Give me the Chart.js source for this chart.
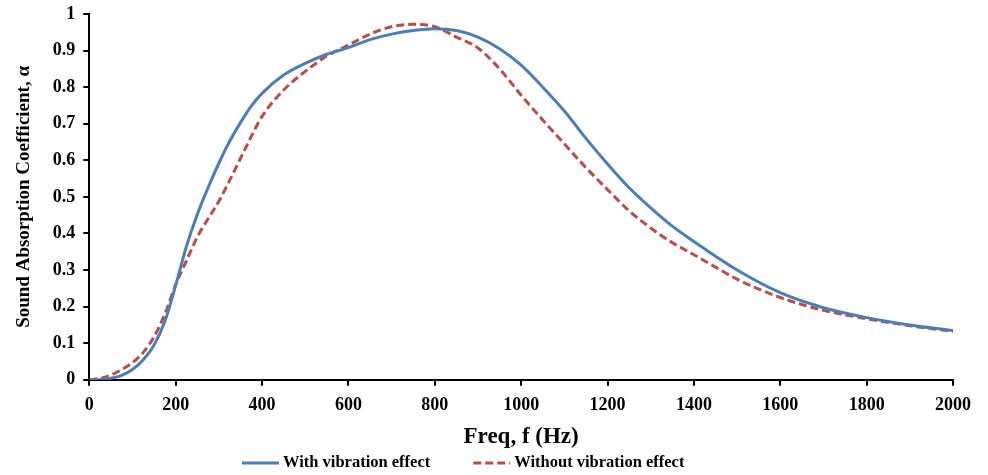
<!DOCTYPE html>
<html>
<head>
<meta charset="utf-8">
<script src="https://cdn.jsdelivr.net/npm/chart.js@4/dist/chart.umd.min.js"></script>
<style>
  html, body { margin: 0; padding: 0; background: #fff; }
  #wrap { width: 988px; height: 475px; }
</style>
</head>
<body>
<div id="wrap"><canvas id="absorptionChart" width="988" height="475"></canvas></div>
<script>
// frequency in Hz
const freq = [0, 25, 50, 75, 100, 125, 150, 175, 200, 225, 250, 275, 300, 325, 350, 375, 400, 450, 500, 550, 600, 650, 700, 750, 800, 850, 900, 950, 1000, 1050, 1100, 1150, 1200, 1250, 1300, 1350, 1400, 1450, 1500, 1600, 1700, 1800, 1900, 2000]

// sound absorption coefficient
const withVibration = [0, 0, 0.004, 0.012, 0.028, 0.055, 0.095, 0.16, 0.258, 0.365, 0.452, 0.525, 0.592, 0.652, 0.703, 0.748, 0.783, 0.833, 0.865, 0.89, 0.908, 0.93, 0.945, 0.955, 0.96, 0.955, 0.937, 0.905, 0.86, 0.8, 0.735, 0.66, 0.59, 0.525, 0.47, 0.42, 0.378, 0.338, 0.3, 0.238, 0.197, 0.17, 0.15, 0.135]
const withoutVibration = [0, 0.004, 0.013, 0.028, 0.047, 0.075, 0.118, 0.18, 0.26, 0.326, 0.39, 0.44, 0.488, 0.545, 0.605, 0.665, 0.72, 0.792, 0.843, 0.885, 0.915, 0.945, 0.965, 0.972, 0.965, 0.937, 0.907, 0.85, 0.778, 0.71, 0.645, 0.58, 0.52, 0.462, 0.415, 0.375, 0.342, 0.308, 0.275, 0.225, 0.19, 0.167, 0.148, 0.132]

const xTicks = [0, 200, 400, 600, 800, 1000, 1200, 1400, 1600, 1800, 2000]
const yTicks = [0, 0.1, 0.2, 0.3, 0.4, 0.5, 0.6, 0.7, 0.8, 0.9, 1]

const toPoints = (values) => freq.map((f, i) => ({ x: f, y: values[i] }))

const serif = "'Liberation Serif', 'Times New Roman', serif"

// legend drawn by hand so the spacing matches the Excel original
const excelLegend = {
  id: "excelLegend",
  afterDraw(chart) {
    const ctx = chart.ctx
    const y = 463
    let x = 242
    ctx.save()
    ctx.font = "bold 16.5px " + serif
    ctx.textBaseline = "middle"
    chart.data.datasets.forEach((ds) => {
      ctx.strokeStyle = ds.borderColor
      ctx.lineWidth = ds.borderWidth
      ctx.setLineDash(ds.borderDash || [])
      ctx.beginPath()
      ctx.moveTo(x, y)
      ctx.lineTo(x + 37, y)
      ctx.stroke()
      ctx.setLineDash([])
      ctx.fillStyle = "#000"
      ctx.fillText(ds.label, x + 41, y)
      x += 41 + ctx.measureText(ds.label).width + 43
    })
    ctx.restore()
  }
}

new Chart(document.getElementById("absorptionChart"), {
  type: "line",
  data: {
    datasets: [
      {
        label: "With vibration effect",
        data: toPoints(withVibration),
        borderColor: "#4a7ebb",
        backgroundColor: "#4a7ebb",
        borderWidth: 3,
        pointRadius: 0,
        cubicInterpolationMode: "monotone"
      },
      {
        label: "Without vibration effect",
        data: toPoints(withoutVibration),
        borderColor: "#be4b48",
        backgroundColor: "#be4b48",
        borderWidth: 3,
        borderDash: [8, 4],
        pointRadius: 0,
        cubicInterpolationMode: "monotone"
      }
    ]
  },
  plugins: [excelLegend],
  options: {
    responsive: false,
    animation: false,
    layout: { padding: { top: 0, right: 35, left: 13, bottom: 24 } },
    plugins: {
      tooltip: { enabled: false },
      legend: { display: false }
    },
    scales: {
      x: {
        type: "linear",
        min: 0,
        max: 2000,
        afterBuildTicks: (axis) => { axis.ticks = xTicks.map((v) => ({ value: v })) },
        border: { color: "#000", width: 2 },
        grid: { drawOnChartArea: false, color: "#000", tickColor: "#000", lineWidth: 2, tickWidth: 2, tickLength: 6 },
        ticks: {
          color: "#000",
          padding: 9,
          maxRotation: 0,
          font: { family: serif, size: 18, weight: "bold" },
          callback: (v) => String(v)
        },
        title: {
          display: true,
          text: "Freq, f (Hz)",
          color: "#000",
          padding: { top: -2, bottom: 0 },
          font: { family: serif, size: 23, weight: "bold" }
        }
      },
      y: {
        min: 0,
        max: 1,
        afterBuildTicks: (axis) => { axis.ticks = yTicks.map((v) => ({ value: v })) },
        afterFit: (axis) => { axis.paddingTop = 14 },
        border: { color: "#000", width: 2 },
        grid: { drawOnChartArea: false, color: "#000", tickColor: "#000", lineWidth: 2, tickWidth: 2, tickLength: 6 },
        ticks: {
          color: "#000",
          padding: 8,
          font: { family: serif, size: 18, weight: "bold" },
          callback: (v) => String(v)
        },
        title: {
          display: true,
          text: "Sound Absorption Coefficient, α",
          color: "#000",
          padding: { top: 0, bottom: 9 },
          font: { family: serif, size: 19, weight: "bold" }
        }
      }
    }
  }
})
</script>
</body>
</html>
